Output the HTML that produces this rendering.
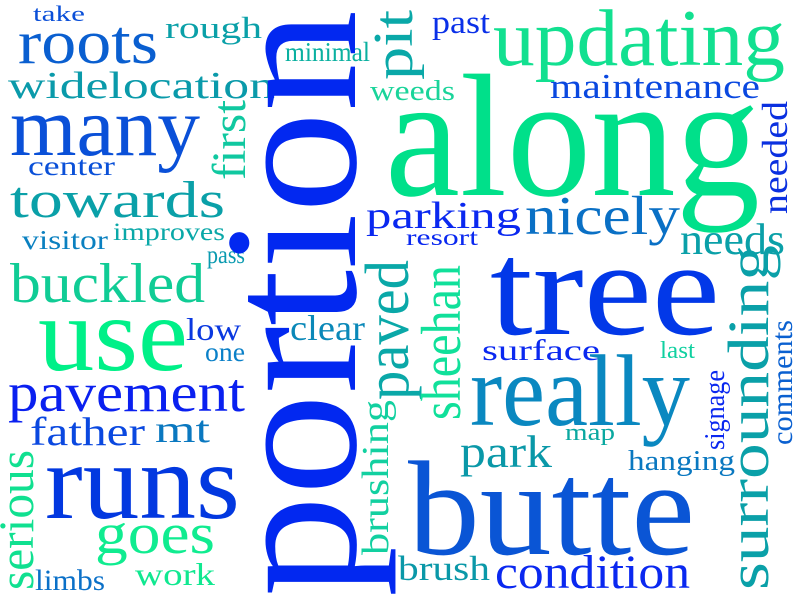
<!DOCTYPE html>
<html><head><meta charset="utf-8"><style>
html,body{margin:0;padding:0;background:#fff;}
svg{display:block;}
text{font-family:"Liberation Serif",serif;}
</style></head><body>
<svg id="cloud" width="800" height="600" viewBox="0 0 800 600" xmlns="http://www.w3.org/2000/svg">
<rect width="800" height="600" fill="#ffffff"/>
</svg>
<script>
// word, x, baseline, font size, length, rotated(0/1), colour
const words = ["take","roots","rough","updating","past","minimal","widelocation","maintenance","weeds","along","many","center","towards","parking","nicely","visitor","improves","resort","needs","pass","buckled","tree","use","low","clear","one","surface","last","pavement","really","father","mt","park","map","runs","hanging","butte","goes","work","limbs","brush","condition","portion","pit","first","needed","paved","sheehan","surrounding","comments","signage","brushing","serious"];
const xs = [33,18,165,493,432,285,8,550,370,385,10,28,10,366,525,22,113,406,680,207,10,490,38,186,290,205,482,660,8,470,30,155,460,565,45,628,408,95,135,35,398,495,355,412,245,787,408,460,768,792,724,388,33];
const ys = [21,63,38,65,33,61,98,98,100,195,155,175,217,228,234,249,240,245,254,263,302,334,370,340,340,361,360,358,411,425,445,442,467,440,518,470,554,553,585,590,580,588,597,80,180,214,400,420,590,445,450,555,590];
const sizes = [22,62,31,80,33,27,38,35,28,175,84,27,52,38,55,27,25,23,44,25,56,135,106,32,36,27,30,24,55,102,40,38,46,24,108,28,135,58,32,30,35,48,190,56,48,36,62,56,58,30,28,38,50];
const lens = [52,140,97,292,58,85,267,210,85,375,190,87,215,155,155,86,112,72,105,38,195,230,150,55,75,40,118,35,237,220,115,55,92,50,195,107,287,120,80,70,92,195,587,70,80,113,140,155,345,125,80,155,140];
const rot = [0,0,0,0,0,0,0,0,0,0,0,0,0,0,0,0,0,0,0,0,0,0,0,0,0,0,0,0,0,0,0,0,0,0,0,0,0,0,0,0,0,0,1,1,1,1,1,1,1,1,1,1,1];
const cols = ["#0a4fd8","#0a5fd0","#0aa0a8","#12e090","#0a30e8","#0ab0a0","#0a9aaa","#0a48e0","#1ad49a","#00e08a","#0a50d8","#0a50d8","#0aa0a8","#0a28f0","#0a70c5","#0a80c0","#0aa8a8","#0a28f0","#0aa0a8","#0a9ab0","#10cc95","#0238e8","#00f088","#0a38e0","#0a88b8","#0a80c8","#0a28f0","#10d0a0","#0a20f0","#0a88c0","#0a48e0","#0a78c0","#0a98a8","#0aa8a0","#0238e0","#0a78c0","#0a55d5","#10ec90","#10e890","#0a70c8","#0a98a8","#0a28f0","#0228f0","#0aa8a8","#10c8a0","#0a30e0","#0aa8a8","#10e09a","#0aa0a8","#0a60d0","#0a28f0","#12d0a0","#10e090"];
const svg = document.getElementById('cloud');
const NS = 'http://www.w3.org/2000/svg';
for (let i = 0; i < words.length; i++) {
  const t = document.createElementNS(NS, 'text');
  
  
  t.setAttribute('font-size', sizes[i]);
  t.setAttribute('fill', cols[i]);
  t.setAttribute('textLength', lens[i]);
  t.setAttribute('lengthAdjust', 'spacingAndGlyphs');
  if (rot[i]) {
    t.setAttribute('x', 0); t.setAttribute('y', 0);
    t.setAttribute('transform', 'translate(' + xs[i] + ',' + ys[i] + ') rotate(-90)');
  } else {
    t.setAttribute('x', xs[i]); t.setAttribute('y', ys[i]);
  }
  t.textContent = words[i];
  svg.appendChild(t);
}
</script>
</body></html>
